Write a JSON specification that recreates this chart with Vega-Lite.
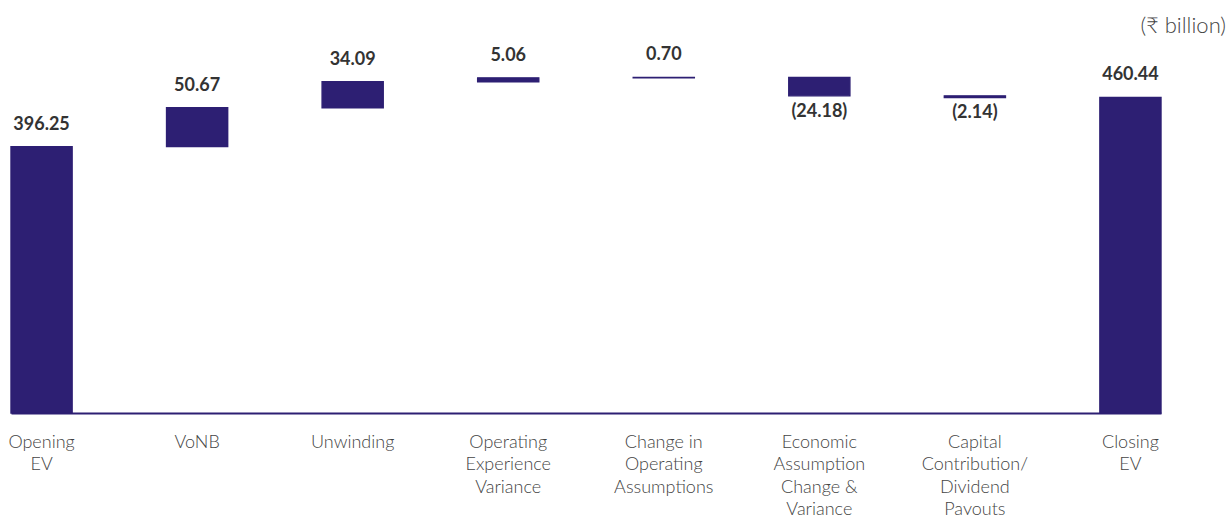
{
  "$schema": "https://vega.github.io/schema/vega-lite/v6.json",
  "width": 1150,
  "height": 363,
  "autosize": {"type": "none"},
  "padding": {"left": 11, "top": 50, "right": 66, "bottom": 102},
  "background": "white",
  "title": {
    "text": "(₹ billion)",
    "anchor": "end",
    "frame": "group",
    "orient": "top",
    "dx": 65,
    "offset": 8,
    "font": "Lato",
    "fontWeight": 300,
    "fontSize": 22,
    "color": "#444444"
  },
  "data": {
    "values": [
      {"cat": "Opening|EV", "start": 0, "end": 396.25, "label": "396.25"},
      {"cat": "VoNB", "start": 396.25, "end": 446.92, "label": "50.67"},
      {"cat": "Unwinding", "start": 446.92, "end": 481.01, "label": "34.09"},
      {"cat": "Operating|Experience|Variance", "start": 481.01, "end": 486.07, "label": "5.06"},
      {"cat": "Change in|Operating|Assumptions", "start": 486.07, "end": 486.77, "label": "0.70"},
      {"cat": "Economic|Assumption|Change &|Variance", "start": 486.77, "end": 462.59, "label": "(24.18)"},
      {"cat": "Capital|Contribution/|Dividend|Payouts", "start": 462.59, "end": 460.45, "label": "(2.14)"},
      {"cat": "Closing|EV", "start": 0, "end": 460.44, "label": "460.44"}
    ]
  },
  "encoding": {
    "x": {
      "field": "cat",
      "type": "nominal",
      "sort": null,
      "scale": {"paddingInner": 0.607, "paddingOuter": 0},
      "axis": {
        "title": null,
        "labelAngle": 0,
        "labelExpr": "split(datum.value, '|')",
        "labelFont": "Lato",
        "labelFontWeight": 300,
        "labelFontSize": 18,
        "labelColor": "#444444",
        "labelLineHeight": 22.5,
        "labelPadding": 20,
        "labelBaseline": "top",
        "ticks": false,
        "domainColor": "#2d1f73",
        "domainWidth": 2,
        "grid": false
      }
    }
  },
  "layer": [
    {
      "mark": {"type": "bar", "color": "#2d1f73", "stroke": "#2d1f73", "strokeWidth": 1.4},
      "encoding": {
        "y": {
          "field": "start",
          "type": "quantitative",
          "scale": {"domain": [48, 522.5], "clamp": true, "zero": false, "nice": false},
          "axis": null
        },
        "y2": {"field": "end"}
      }
    },
    {
      "transform": [{"filter": "datum.end >= datum.start"}],
      "mark": {"type": "text", "font": "Lato", "fontWeight": "bold", "fontSize": 18, "color": "#333333", "baseline": "alphabetic", "dy": -17},
      "encoding": {
        "y": {"field": "end", "type": "quantitative"},
        "text": {"field": "label"}
      }
    },
    {
      "transform": [{"filter": "datum.end < datum.start"}],
      "mark": {"type": "text", "font": "Lato", "fontWeight": "bold", "fontSize": 18, "color": "#333333", "baseline": "alphabetic", "dy": 21},
      "encoding": {
        "y": {"field": "end", "type": "quantitative"},
        "text": {"field": "label"}
      }
    }
  ],
  "config": {"view": {"stroke": null}}
}
